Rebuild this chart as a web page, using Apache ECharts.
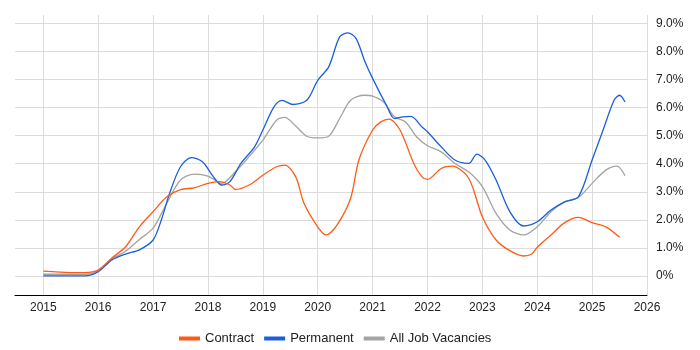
<!DOCTYPE html>
<html>
<head>
<meta charset="utf-8">
<script src="https://cdn.jsdelivr.net/npm/echarts@6/dist/echarts.min.js"></script>
<style>
  html, body { margin: 0; padding: 0; background: #fff; }
  #chart { width: 700px; height: 350px; }
</style>
</head>
<body>
<div id="chart"></div>
<script>
// series data: decimal year and percentage share
var contractYears = [2015.0, 2015.5, 2015.75, 2016.0, 2016.25, 2016.5, 2016.75, 2017.0, 2017.25, 2017.5, 2017.75, 2018.0, 2018.2, 2018.4, 2018.5, 2018.75, 2019.0, 2019.25, 2019.4, 2019.6, 2019.75, 2020.0, 2020.15, 2020.35, 2020.6, 2020.75, 2021.0, 2021.15, 2021.3, 2021.5, 2021.75, 2021.9, 2022.0, 2022.25, 2022.45, 2022.75, 2023.0, 2023.25, 2023.5, 2023.75, 2023.9, 2024.0, 2024.25, 2024.5, 2024.75, 2025.0, 2025.25, 2025.5];
var contractValues = [0.17, 0.12, 0.12, 0.21, 0.64, 1.04, 1.75, 2.29, 2.82, 3.08, 3.14, 3.3, 3.36, 3.24, 3.08, 3.24, 3.59, 3.89, 3.95, 3.53, 2.59, 1.75, 1.46, 1.81, 2.77, 4.13, 5.2, 5.49, 5.59, 5.2, 4.01, 3.53, 3.44, 3.83, 3.91, 3.48, 2.11, 1.28, 0.9, 0.71, 0.78, 1.02, 1.46, 1.9, 2.09, 1.9, 1.75, 1.38];

var permYears = [2015.0, 2015.75, 2016.0, 2016.25, 2016.5, 2016.75, 2017.0, 2017.15, 2017.3, 2017.5, 2017.7, 2017.9, 2018.1, 2018.25, 2018.4, 2018.6, 2018.85, 2019.0, 2019.2, 2019.35, 2019.55, 2019.8, 2020.0, 2020.2, 2020.4, 2020.55, 2020.7, 2020.85, 2021.0, 2021.25, 2021.4, 2021.55, 2021.7, 2021.9, 2022.0, 2022.25, 2022.5, 2022.75, 2022.9, 2023.05, 2023.25, 2023.5, 2023.75, 2024.0, 2024.25, 2024.5, 2024.75, 2025.0, 2025.2, 2025.4, 2025.5, 2025.6];
var permValues = [0.0, 0.0, 0.15, 0.57, 0.78, 0.93, 1.28, 1.99, 2.94, 3.89, 4.22, 4.07, 3.53, 3.24, 3.36, 4.01, 4.6, 5.2, 6.02, 6.26, 6.11, 6.26, 6.97, 7.45, 8.52, 8.66, 8.46, 7.69, 7.04, 6.09, 5.61, 5.67, 5.69, 5.31, 5.14, 4.6, 4.13, 4.01, 4.34, 4.13, 3.42, 2.29, 1.78, 1.93, 2.35, 2.64, 2.82, 4.13, 5.2, 6.26, 6.44, 6.2];

var allYears = [2015.0, 2015.75, 2016.0, 2016.25, 2016.5, 2016.75, 2017.0, 2017.25, 2017.5, 2017.75, 2018.0, 2018.25, 2018.5, 2018.75, 2019.0, 2019.25, 2019.4, 2019.6, 2019.8, 2020.0, 2020.2, 2020.4, 2020.6, 2020.85, 2021.0, 2021.2, 2021.4, 2021.6, 2021.8, 2022.0, 2022.25, 2022.5, 2022.75, 2023.0, 2023.25, 2023.5, 2023.75, 2024.0, 2024.25, 2024.5, 2024.75, 2025.0, 2025.25, 2025.45, 2025.6];
var allValues = [0.06, 0.06, 0.18, 0.6, 0.88, 1.3, 1.7, 2.59, 3.42, 3.63, 3.56, 3.3, 3.71, 4.25, 4.84, 5.55, 5.65, 5.34, 4.98, 4.92, 4.98, 5.61, 6.26, 6.44, 6.41, 6.2, 5.67, 5.49, 4.96, 4.64, 4.42, 4.01, 3.71, 3.18, 2.23, 1.64, 1.46, 1.75, 2.29, 2.64, 2.8, 3.3, 3.77, 3.91, 3.57];

var seriesNames = ["Contract", "Permanent", "All Job Vacancies"];
var seriesColors = ["#ff5a14", "#1a5fdc", "#a3a3a3"];

function pairs(xs, ys) {
  return xs.map(function (x, i) { return [x, ys[i]]; });
}

var chart = echarts.init(document.getElementById("chart"));

chart.setOption({
  animation: false,
  textStyle: { fontFamily: "Liberation Sans, Arial, sans-serif" },
  grid: { left: 15, right: 53, top: 15, bottom: 55 },
  legend: {
    data: seriesNames,
    left: 174,
    top: 327,
    icon: "rect",
    itemWidth: 21,
    itemHeight: 4,
    itemGap: 10,
    textStyle: { fontSize: 13, color: "#222" }
  },
  xAxis: {
    type: "value",
    min: 2014.484,
    max: 2026,
    splitNumber: 12,
    axisLine: { onZero: false, lineStyle: { color: "#000", width: 1 } },
    axisTick: { show: false },
    axisLabel: {
      color: "#222",
      fontSize: 12,
      margin: 7,
      showMinLabel: false,
      formatter: function (v) {
        return Math.abs(v - Math.round(v)) < 1e-6 ? String(Math.round(v)) : "";
      }
    },
    splitLine: { show: true, showMinLine: false, lineStyle: { color: "#dcdcdc" } }
  },
  yAxis: {
    type: "value",
    position: "right",
    min: -0.68,
    max: 9.3,
    splitNumber: 10,
    axisLine: { show: false },
    axisTick: { show: false },
    axisLabel: {
      color: "#222",
      fontSize: 12,
      margin: 9,
      showMinLabel: false,
      showMaxLabel: false,
      formatter: function (v) {
        if (Math.abs(v - Math.round(v)) > 1e-6) return "";
        return v === 0 ? "0%" : v.toFixed(1) + "%";
      }
    },
    splitLine: { show: true, showMinLine: false, showMaxLine: false, lineStyle: { color: "#dcdcdc" } }
  },
  series: [
    {
      name: seriesNames[0],
      type: "line",
      data: pairs(contractYears, contractValues),
      smooth: 0.3,
      showSymbol: false,
      color: seriesColors[0],
      lineStyle: { width: 1.3 },
      z: 3
    },
    {
      name: seriesNames[1],
      type: "line",
      data: pairs(permYears, permValues),
      smooth: 0.3,
      showSymbol: false,
      color: seriesColors[1],
      lineStyle: { width: 1.3 },
      z: 2
    },
    {
      name: seriesNames[2],
      type: "line",
      data: pairs(allYears, allValues),
      smooth: 0.3,
      showSymbol: false,
      color: seriesColors[2],
      lineStyle: { width: 1.3 },
      z: 1
    }
  ]
});
</script>
</body>
</html>
